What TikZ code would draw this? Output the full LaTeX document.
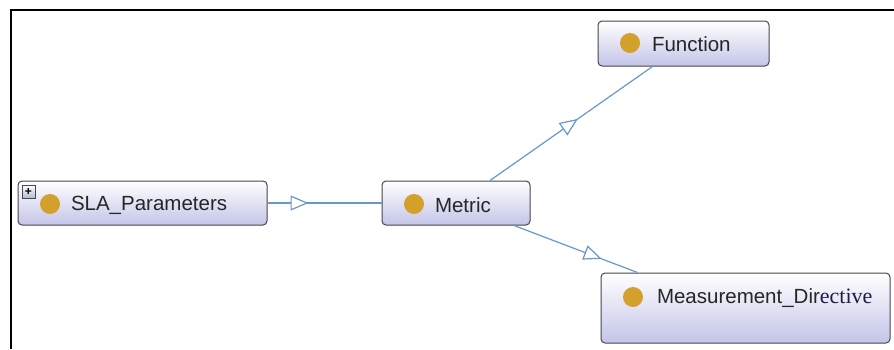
\documentclass[tikz,border=0pt]{standalone}
\usepackage{fontspec}
\setmainfont{Liberation Sans}
\newfontfamily\serifpart{Liberation Serif}
\usetikzlibrary{arrows.meta,decorations.markings,positioning}

\definecolor{edgeblue}{RGB}{104,151,201}
\definecolor{boxline}{RGB}{70,70,75}
\definecolor{boxbottom}{RGB}{196,196,232}
\definecolor{classdot}{RGB}{212,160,44}
\definecolor{serifink}{RGB}{28,30,72}

\tikzset{every picture/.style={line width=1pt}}
\tikzset{
  classbox/.style={draw=boxline, rounded corners=4pt, top color=white, bottom color=boxbottom,
    inner sep=0pt, line width=1pt},
  classdot/.style={circle, fill=classdot, minimum size=20pt, inner sep=0pt},
  classname/.style={anchor=west, inner sep=0pt, yshift=-1pt, font=\fontsize{20.5}{24}\selectfont, text=black!85},
  plusbox/.style={draw=boxline, top color=white, bottom color={rgb,255:red,170;green,185;blue,205}, minimum size=13pt,
    inner sep=0pt, line width=0.6pt, font=\bfseries\fontsize{12}{12}\selectfont},
  isa/.style={draw=edgeblue, line width=1.2pt, postaction={decorate},
    decoration={markings, mark=at position #1 with {\arrow{Triangle[open, length=18pt, width=15pt, fill=white, line width=1.2pt]}}}}
}

\begin{document}
\begin{tikzpicture}[x=1pt,y=1pt,yscale=-1,xscale=1]
\useasboundingbox (0,0) rectangle (894,349);

% frame
\draw [line width=1.8pt] (11,349) -- (11,10) -- (894,10);

% classes
\node [classbox, minimum width=249pt, minimum height=44pt] (sla) at (142.5,203) {};
\node [classbox, minimum width=148pt, minimum height=44pt] (metric) at (456,203) {};
\node [classbox, minimum width=171pt, minimum height=45pt] (function) at (683.5,43.5) {};
\node [classbox, minimum width=289pt, minimum height=70pt] (measure) at (745.5,308) {};

% dots and names
\node [classdot] (sladot) at (50,204) {};
\node [classname, right=10pt of sladot] (slaname) {SLA\_Parameters};
\node [plusbox] (slaplus) at (28.5,192) {+};

\node [classdot] (metricdot) at (414,204) {};
\node [classname, right=10pt of metricdot] (metricname) {Metric};

\node [classdot] (functiondot) at (630,43) {};
\node [classname, right=11pt of functiondot] (functionname) {Function};

\node [classdot] (measuredot) at (633,297) {};
\node [classname, right=13pt of measuredot] (measurename) {Measurement\_Dir{\serifpart\fontsize{22}{24}\selectfont\color{serifink}ective}};

% subclass links
\draw [isa=0.36] (sla.east) -- (metric.west);
\draw [isa=0.54] ([xshift=34pt]metric.north) -- ([xshift=-31pt]function.south);
\draw [isa=0.71] ([xshift=58pt]metric.south) -- ([xshift=-108pt]measure.north);

\end{tikzpicture}
\end{document}
